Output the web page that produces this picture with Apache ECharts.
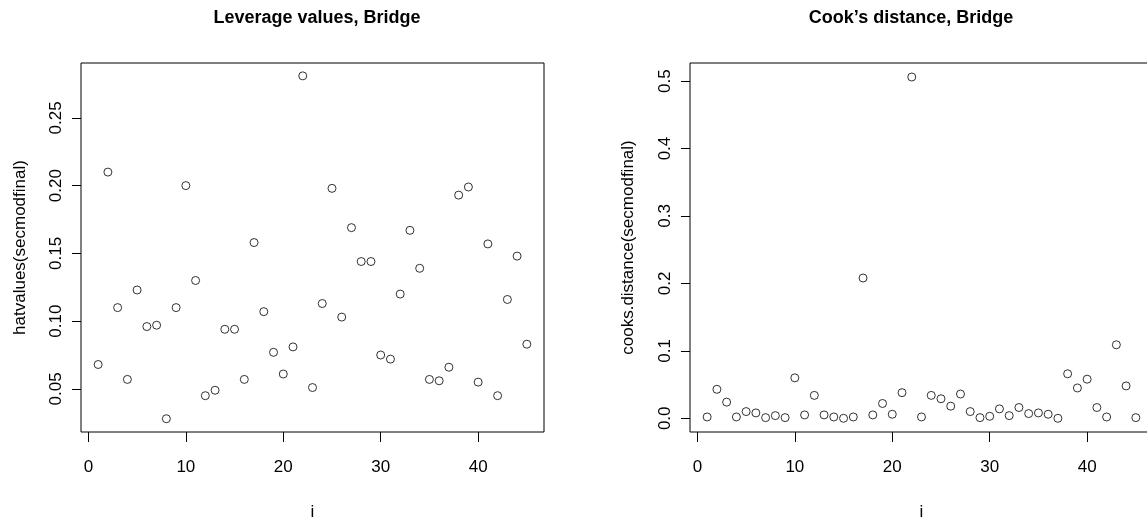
<!DOCTYPE html>
<html>
<head>
<meta charset="utf-8">
<title>Leverage and Cook's distance, Bridge</title>
<script src="https://cdn.jsdelivr.net/npm/echarts@6/dist/echarts.min.js"></script>
<style>
  html, body { margin: 0; padding: 0; background: #fff; }
  #chart { width: 1147px; height: 521px; }
</style>
</head>
<body>
<div id="chart"></div>
<script>
// observation index
var obsIndex = [1, 2, 3, 4, 5, 6, 7, 8, 9, 10, 11, 12, 13, 14, 15, 16, 17, 18, 19, 20, 21, 22, 23,
    24, 25, 26, 27, 28, 29, 30, 31, 32, 33, 34, 35, 36, 37, 38, 39, 40, 41, 42, 43, 44, 45]

// hatvalues(secmodfinal)
var leverage = [0.068, 0.210, 0.110, 0.057, 0.123, 0.096, 0.097, 0.028, 0.110, 0.200,
    0.130, 0.045, 0.049, 0.094, 0.094, 0.057, 0.158, 0.107, 0.077, 0.061,
    0.081, 0.281, 0.051, 0.113, 0.198, 0.103, 0.169, 0.144, 0.144, 0.075,
    0.072, 0.120, 0.167, 0.139, 0.057, 0.056, 0.066, 0.193, 0.199, 0.055,
    0.157, 0.045, 0.116, 0.148, 0.083]

// cooks.distance(secmodfinal)
var cooks = [0.002, 0.043, 0.024, 0.002, 0.010, 0.008, 0.001, 0.004, 0.001, 0.060,
    0.005, 0.034, 0.005, 0.002, 0.000, 0.002, 0.208, 0.005, 0.022, 0.006,
    0.038, 0.506, 0.002, 0.034, 0.029, 0.018, 0.036, 0.010, 0.001, 0.003,
    0.014, 0.004, 0.016, 0.007, 0.008, 0.006, 0.000, 0.066, 0.045, 0.058,
    0.016, 0.002, 0.109, 0.048, 0.001]

// tick labels
var xTicks = [0, 10, 20, 30, 40]
var levTicks = [0.05, 0.10, 0.15, 0.20, 0.25]
var cookTicks = [0.0, 0.1, 0.2, 0.3, 0.4, 0.5]

var font = 'Liberation Sans'

function pairs (ys) {
    return obsIndex.map(function (x, k) { return [x, ys[k]] })
}

function xAxis (gridIndex) {
    return {
        type: 'value', gridIndex: gridIndex,
        min: -0.76, max: 46.76,
        name: 'i', nameLocation: 'middle', nameGap: 72,
        nameTextStyle: { fontFamily: font, fontSize: 17, color: '#000' },
        axisLine: { show: false, onZero: false },
        splitLine: { show: false },
        axisTick: { show: true, length: 10, lineStyle: { color: '#000' }, customValues: xTicks },
        axisLabel: { fontFamily: font, fontSize: 17, color: '#000', margin: 27, customValues: xTicks }
    }
}

function yAxis (gridIndex, min, max, ticks, name, digits, gap) {
    return {
        type: 'value', gridIndex: gridIndex,
        min: min, max: max,
        name: name, nameLocation: 'middle', nameGap: gap,
        nameTextStyle: { fontFamily: font, fontSize: 17, color: '#000' },
        axisLine: { show: false, onZero: false },
        splitLine: { show: false },
        axisTick: { show: true, length: 9, lineStyle: { color: '#000' }, customValues: ticks },
        axisLabel: {
            fontFamily: font, fontSize: 17, color: '#000', rotate: 90, margin: 16,
            customValues: ticks,
            formatter: function (v) { return v.toFixed(digits) }
        }
    }
}

function dots (idx, ys) {
    return {
        type: 'scatter', xAxisIndex: idx, yAxisIndex: idx,
        data: pairs(ys),
        symbol: 'circle', symbolSize: 8,
        itemStyle: { color: 'rgba(0,0,0,0)', borderColor: '#000', borderWidth: 1 },
        emphasis: { disabled: true },
        silent: true
    }
}

var chart = echarts.init(document.getElementById('chart'))
chart.setOption({
    backgroundColor: '#fff',
    animation: false,
    title: [
        { text: 'Leverage values, Bridge', left: 312, top: 4, textAlign: 'center',
          textStyle: { fontFamily: font, fontSize: 18, fontWeight: 'bold', color: '#000' } },
        { text: 'Cook\u2019s distance, Bridge', left: 906, top: 4, textAlign: 'center',
          textStyle: { fontFamily: font, fontSize: 18, fontWeight: 'bold', color: '#000' } }
    ],
    // fixed plot boxes; the right one runs past the canvas edge like the original
    grid: [
        { left: 81, top: 63, width: 463, height: 369, outerBoundsMode: 'none',
          show: true, borderColor: '#000', borderWidth: 1 },
        { left: 690, top: 63, width: 463, height: 369, outerBoundsMode: 'none',
          show: true, borderColor: '#000', borderWidth: 1 }
    ],
    xAxis: [xAxis(0), xAxis(1)],
    yAxis: [
        yAxis(0, 0.0182, 0.2905, levTicks, 'hatvalues(secmodfinal)', 2, 52),
        yAxis(1, -0.0203, 0.5268, cookTicks, 'cooks.distance(secmodfinal)', 1, 53)
    ],
    series: [dots(0, leverage), dots(1, cooks)]
})
</script>
</body>
</html>
